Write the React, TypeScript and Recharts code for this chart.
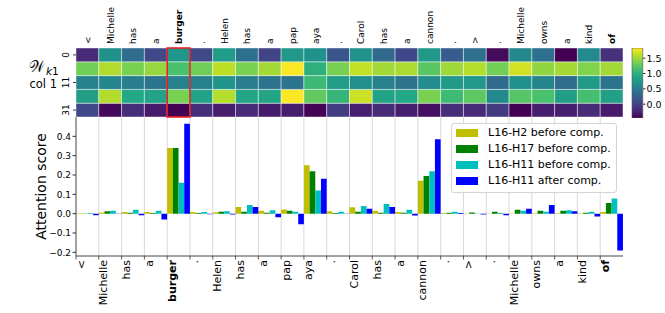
import React from 'react';
import { BarChart, Bar, XAxis, YAxis, CartesianGrid, Cell, ReferenceArea, Legend } from 'recharts';

// ---------- data ----------
const tokens = ['<', 'Michelle', 'has', 'a', 'burger', '.', 'Helen', 'has', 'a', 'pap', 'aya', '.', 'Carol', 'has', 'a', 'cannon', '.', '>', '.', 'Michelle', 'owns', 'a', 'kind', 'of'];
const boldIdx = [4, 23];
const highlightIdx = 4;

const seriesNames = ['L16-H2 before comp.', 'L16-H17 before comp.', 'L16-H11 before comp.', 'L16-H11 after comp.'];
const seriesColors = ['#bfbf00', '#008000', '#00bfbf', '#0000ff'];

const h2Before = [0.002, 0.006, 0.008, 0.008, 0.34, 0.009, 0.007, 0.035, 0.015, 0.022, 0.25, 0.012, 0.033, 0.015, 0.008, 0.17, 0.003, 0.001, 0.001, 0.001, 0.002, 0.002, 0.002, 0.008];
const h17Before = [0.001, 0.012, 0.005, 0.004, 0.34, 0.003, 0.01, 0.01, 0.005, 0.015, 0.22, 0.003, 0.01, 0.005, 0.005, 0.195, 0.005, 0.006, 0.01, 0.02, 0.015, 0.015, 0.005, 0.055];
const h11Before = [0.003, 0.015, 0.02, 0.015, 0.16, 0.008, 0.013, 0.045, 0.018, 0.01, 0.12, 0.01, 0.04, 0.05, 0.02, 0.22, 0.01, 0.001, 0.003, 0.015, 0.01, 0.018, 0.01, 0.078];
const h11After = [-0.008, -0.002, -0.008, -0.03, 0.465, -0.003, -0.004, 0.035, -0.018, -0.055, 0.18, -0.002, 0.025, 0.035, -0.01, 0.385, 0.004, -0.004, -0.008, 0.026, 0.045, 0.013, -0.015, -0.19];

const yTicks = [-0.2, -0.1, 0, 0.1, 0.2, 0.3, 0.4];
const yDomain = [-0.219, 0.5];

const heatRowLabels = ['0', '2', '11', '17', '31'];
const heatRow0 = [-0.18, 0.69, 0.35, 0.05, 0.74, 0.05, 0.80, 0.39, 0.01, 0.76, 0.69, 0.15, 0.70, 0.33, 0.03, 0.76, 0.22, 0.38, -0.38, 0.62, 0.40, -0.45, 0.63, -0.13];
const heatRow2 = [1.33, 1.56, 1.37, 1.47, 1.17, 1.33, 1.60, 1.37, 1.51, 1.82, 0.99, 1.36, 1.62, 1.51, 1.54, 1.24, 1.50, 1.57, 1.34, 1.67, 1.45, 1.52, 1.40, 1.51];
const heatRow11 = [0.55, 0.60, 0.52, 0.42, 0.55, 0.54, 0.73, 0.52, 0.42, 0.43, 1.10, 0.80, 0.68, 0.54, 0.43, 0.64, 0.79, 0.76, 0.34, 0.69, 0.58, 0.35, 0.79, 0.42];
const heatRow17 = [0.82, 1.56, 0.92, 0.87, 1.37, 0.87, 1.57, 0.90, 0.88, 1.82, 1.27, 1.05, 1.65, 0.87, 0.92, 1.37, 1.10, 1.25, 0.62, 1.22, 1.17, 0.82, 1.15, 0.83];
const heatRow31 = [0.05, -0.40, -0.16, -0.29, -0.45, -0.16, -0.27, -0.18, -0.28, -0.27, -0.44, -0.05, -0.26, -0.18, -0.27, -0.36, -0.15, -0.18, -0.06, -0.45, -0.27, -0.27, -0.18, -0.29];

const colorbarTicks = [0, 0.5, 1.0, 1.5];
const colorMin = -0.45;
const colorMax = 1.83;

// ---------- styling helpers ----------
const VIRIDIS = ['#440154', '#482475', '#414487', '#355f8d', '#2a788e', '#21918c', '#22a884', '#44bf70', '#7ad151', '#bddf26', '#fde725'];
const hexToRgb = (h: string) => [parseInt(h.slice(1, 3), 16), parseInt(h.slice(3, 5), 16), parseInt(h.slice(5, 7), 16)];
function viridis(t: number) {
  const c = Math.max(0, Math.min(1, t)) * (VIRIDIS.length - 1);
  const i = Math.min(VIRIDIS.length - 2, Math.floor(c));
  const f = c - i;
  const a = hexToRgb(VIRIDIS[i]);
  const b = hexToRgb(VIRIDIS[i + 1]);
  const m = a.map((v, k) => Math.round(v + (b[k] - v) * f));
  return `rgb(${m[0]},${m[1]},${m[2]})`;
}
const colorOf = (v: number) => viridis((v - colorMin) / (colorMax - colorMin));

const W = 665;
const H = 313;
const PL = 76;
const PR = 623;
const HEAT_TOP = 48;
const HEAT_BOTTOM = 117;
const BAR_BOTTOM = 256;
const BAND = (PR - PL) / tokens.length;
const FONT = "'DejaVu Sans', sans-serif";

// ---------- derived tables ----------
const barKeys = ['h2', 'h17', 'h11b', 'h11a'];
const barSeries = [h2Before, h17Before, h11Before, h11After];
const barData = tokens.map((t, i) => {
  const row: any = { id: i, token: t };
  barKeys.forEach((k, s) => (row[k] = barSeries[s][i]));
  return row;
});

const heatKeys = ['r31', 'r17', 'r11', 'r2', 'r0'];
const heatRows = [heatRow31, heatRow17, heatRow11, heatRow2, heatRow0];
const heatData = tokens.map((t, i) => {
  const row: any = { id: i, token: t };
  heatKeys.forEach((k) => (row[k] = 1));
  return row;
});
const heatTickLabels = [...heatRowLabels].reverse();
const heatTicks = heatTickLabels.map((_, i) => i + 0.5);

const cbData = [{ id: 0, range: [colorMin, colorMax] }];

// ---------- tick components ----------
const TopTick = (props: any) => {
  const { x, y, payload } = props;
  const i = Number(payload.value);
  return (
    <text
      transform={`translate(${x + 3.5},${y - 4}) rotate(-90)`}
      textAnchor="start"
      fontSize={9}
      fontFamily={FONT}
      fontWeight={boldIdx.includes(i) ? 'bold' : 'normal'}
      fill="#000"
    >
      {tokens[i]}
    </text>
  );
};

const BottomTick = (props: any) => {
  const { x, y, payload } = props;
  const i = Number(payload.value);
  const left = x - BAND / 2;
  return (
    <g>
      <line x1={left} x2={left} y1={y} y2={y + 3.5} stroke="#333" strokeWidth={0.8} />
      <text
        transform={`translate(${left + 8.5},${y + 4}) rotate(-90)`}
        textAnchor="end"
        fontSize={11}
        fontFamily={FONT}
        fontWeight={boldIdx.includes(i) ? 'bold' : 'normal'}
        fill="#000"
      >
        {tokens[i]}
      </text>
    </g>
  );
};

const HeatYTick = (props: any) => {
  const { x, y, payload } = props;
  const idx = heatTicks.indexOf(payload.value);
  return (
    <text transform={`translate(${x - 2},${y}) rotate(-90)`} textAnchor="middle" fontSize={9} fontFamily={FONT} fill="#000">
      {heatTickLabels[idx]}
    </text>
  );
};

const fmt = (v: number) => (v < 0 ? '\u2212' + Math.abs(v).toFixed(1) : v.toFixed(1));

const LegendBox = (props: any) => {
  const items = [...(props.payload || [])].sort((a: any, b: any) => seriesNames.indexOf(a.value) - seriesNames.indexOf(b.value));
  return (
    <div
      style={{
        position: 'relative',
        width: 166,
        height: 70,
        boxSizing: 'border-box',
        border: '1px solid #d4d4d4',
        borderRadius: 3,
        background: 'rgba(255,255,255,0.85)',
        fontFamily: FONT,
      }}
    >
      {items.map((p: any, k: number) => (
        <div key={k} style={{ position: 'absolute', left: 4, top: 1 + k * 16, height: 16, display: 'flex', alignItems: 'center' }}>
          <span style={{ display: 'inline-block', width: 22, height: 8, background: p.color }} />
          <span style={{ marginLeft: 10, fontSize: 11, color: '#000', whiteSpace: 'nowrap', lineHeight: '16px' }}>{p.value}</span>
        </div>
      ))}
    </div>
  );
};

const layer: React.CSSProperties = { position: 'absolute', left: 0, top: 0, width: W, height: H };
const heatMargin = { top: HEAT_TOP - 40, left: PL - 30, right: W - PR, bottom: 3 };

export default function App() {
  return (
    <div style={{ position: 'absolute', left: 0, top: 0, width: W, height: H, background: '#fff', fontFamily: FONT, overflow: 'hidden' }}>
      {/* attention bar chart */}
      <div style={layer}>
        <BarChart
          width={W}
          height={H}
          data={barData}
          margin={{ top: HEAT_BOTTOM, left: PL - 40, right: W - PR, bottom: H - BAR_BOTTOM - 50 }}
          barCategoryGap={0}
          barGap={0}
        >
          <CartesianGrid
            horizontal={false}
            stroke="#d9d9d9"
            strokeWidth={1}
            verticalCoordinatesGenerator={(p: any) => {
              const left = p && p.offset ? p.offset.left : PL;
              const width = p && p.offset ? p.offset.width : PR - PL;
              return tokens.map((_, i) => left + (i * width) / tokens.length).slice(1);
            }}
          />
          <XAxis
            dataKey="id"
            type="category"
            interval={0}
            height={50}
            tickSize={0}
            tickMargin={0}
            tickLine={false}
            axisLine={{ stroke: '#444', strokeWidth: 1 }}
            tick={<BottomTick />}
          />
          <YAxis
            width={40}
            type="number"
            domain={yDomain}
            allowDataOverflow
            ticks={yTicks}
            tickFormatter={fmt}
            tickSize={3.5}
            tickMargin={1.5}
            tick={{ fontSize: 9, fill: '#000', fontFamily: FONT }}
            tickLine={{ stroke: '#333' }}
            axisLine={{ stroke: '#444', strokeWidth: 1 }}
          />
          <YAxis yAxisId="right" orientation="right" width={0} domain={yDomain} tick={false} tickLine={false} axisLine={{ stroke: '#888', strokeWidth: 1 }} />
          {barKeys.map((k, s) => (
            <Bar key={k} dataKey={k} name={seriesNames[s]} fill={seriesColors[s]} barSize={BAND / 4 - 0.01} isAnimationActive={false} />
          ))}
          <Legend
            layout="horizontal"
            verticalAlign="middle"
            align="center"
            content={<LegendBox />}
            wrapperStyle={{ left: 451, top: 123, width: 166, height: 70 }}
          />
        </BarChart>
      </div>

      {/* heatmap */}
      <div style={layer}>
        <BarChart width={W} height={HEAT_BOTTOM + 3} data={heatData} margin={heatMargin} barCategoryGap={0} barGap={0}>
          <XAxis
            dataKey="id"
            type="category"
            orientation="top"
            interval={0}
            height={40}
            tickSize={0}
            tickMargin={0}
            tickLine={false}
            axisLine={false}
            tick={<TopTick />}
          />
          <YAxis
            width={30}
            type="number"
            domain={[0, heatKeys.length]}
            ticks={heatTicks}
            tickSize={3}
            tickMargin={2}
            tickLine={{ stroke: '#333' }}
            axisLine={false}
            tick={<HeatYTick />}
          />
          {heatKeys.map((k, r) => (
            <Bar key={k} dataKey={k} stackId="heat" barSize={BAND - 0.01} stroke="rgba(255,255,255,0.55)" strokeWidth={0.8} isAnimationActive={false}>
              {tokens.map((_, i) => (
                <Cell key={i} fill={colorOf(heatRows[r][i])} />
              ))}
            </Bar>
          ))}
        </BarChart>
      </div>

      {/* highlight box over the heatmap */}
      <div style={layer}>
        <BarChart width={W} height={HEAT_BOTTOM + 3} data={heatData} margin={heatMargin} barCategoryGap={0}>
          <XAxis dataKey="id" type="category" orientation="top" height={40} tick={false} tickLine={false} axisLine={false} />
          <YAxis width={30} type="number" domain={[0, heatKeys.length]} tick={false} tickLine={false} axisLine={false} />
          <Bar dataKey="r0" fill="transparent" isAnimationActive={false} />
          <ReferenceArea
            x1={highlightIdx}
            x2={highlightIdx}
            y1={0}
            y2={heatKeys.length}
            stroke="#e8141a"
            strokeWidth={1.5}
            fill="none"
            fillOpacity={0}
            ifOverflow="visible"
          />
        </BarChart>
      </div>

      {/* colorbar */}
      <div style={layer}>
        <BarChart width={W} height={H} data={cbData} margin={{ top: HEAT_TOP, left: 631, right: 0, bottom: H - 118 }} barCategoryGap={0}>
          <defs>
            <linearGradient id="viridisGrad" x1="0" y1="1" x2="0" y2="0">
              {VIRIDIS.map((c, i) => (
                <stop key={i} offset={i / (VIRIDIS.length - 1)} stopColor={c} />
              ))}
            </linearGradient>
          </defs>
          <XAxis dataKey="id" hide />
          <YAxis
            orientation="right"
            width={22}
            type="number"
            domain={[colorMin, colorMax]}
            allowDataOverflow
            ticks={colorbarTicks}
            tickFormatter={(v: number) => v.toFixed(1)}
            tickSize={2.5}
            tickMargin={1}
            tick={{ fontSize: 9.5, fill: '#000', fontFamily: FONT }}
            tickLine={{ stroke: '#333' }}
            axisLine={false}
          />
          <Bar dataKey="range" fill="url(#viridisGrad)" stroke="#555" strokeWidth={0.6} barSize={12} isAnimationActive={false} />
        </BarChart>
      </div>

      {/* static labels */}
      <svg width={W} height={H} style={{ position: 'absolute', left: 0, top: 0, pointerEvents: 'none' }}>
        <text x={29} y={72} fontSize={16} textLength={16} lengthAdjust="spacingAndGlyphs" fontFamily="'DejaVu Serif', 'DejaVu Sans', serif" fill="#000">
          {'\uD835\uDCB2'}
        </text>
        <text x={46} y={75} fontSize={10.5} fontFamily={FONT} fill="#000">
          <tspan fontStyle="italic">k</tspan>1
        </text>
        <text x={29.5} y={87.5} fontSize={11.5} fontFamily={FONT} fill="#000">
          col 1
        </text>
        <text transform={`translate(46,186.5) rotate(-90)`} textAnchor="middle" fontSize={14} fontFamily={FONT} fill="#000">
          Attention score
        </text>
      </svg>
    </div>
  );
}
